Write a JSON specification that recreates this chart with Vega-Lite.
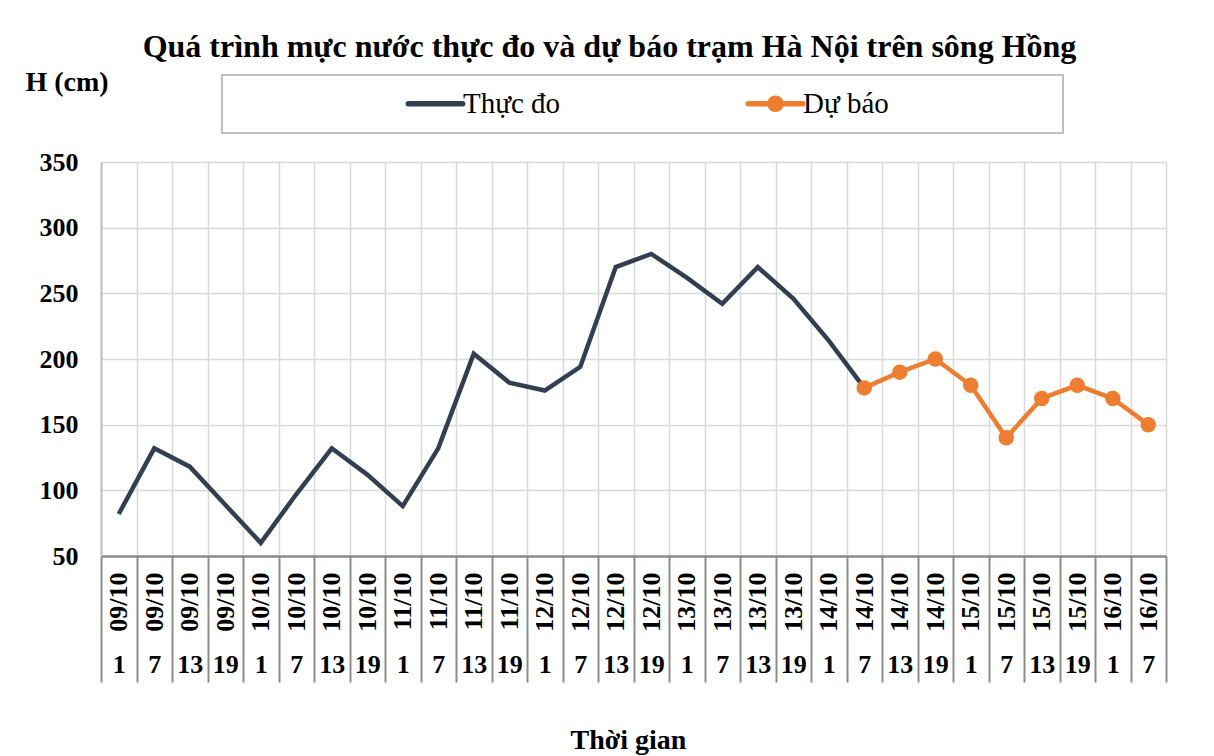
{
  "$schema": "https://vega.github.io/schema/vega-lite/v6.json",
  "width": 1065,
  "height": 394,
  "autosize": {"type": "none"},
  "padding": {"left": 101, "top": 162, "right": 48, "bottom": 200},
  "background": "white",
  "title": {
    "text": "Quá trình mực nước thực đo và dự báo trạm Hà Nội trên sông Hồng",
    "font": "Liberation Serif",
    "fontSize": 32,
    "fontWeight": "bold",
    "color": "black",
    "anchor": "middle",
    "frame": "group",
    "dx": -24
  },
  "config": {
    "view": {"stroke": null},
    "font": "Liberation Serif"
  },
  "datasets": {
    "h": [
      {"t": "09/10 1", "series": "Thực đo", "h": 82},
      {"t": "09/10 7", "series": "Thực đo", "h": 132},
      {"t": "09/10 13", "series": "Thực đo", "h": 118},
      {"t": "09/10 19", "series": "Thực đo", "h": 89},
      {"t": "10/10 1", "series": "Thực đo", "h": 60},
      {"t": "10/10 7", "series": "Thực đo", "h": 97},
      {"t": "10/10 13", "series": "Thực đo", "h": 132},
      {"t": "10/10 19", "series": "Thực đo", "h": 112},
      {"t": "11/10 1", "series": "Thực đo", "h": 88},
      {"t": "11/10 7", "series": "Thực đo", "h": 132},
      {"t": "11/10 13", "series": "Thực đo", "h": 204},
      {"t": "11/10 19", "series": "Thực đo", "h": 182},
      {"t": "12/10 1", "series": "Thực đo", "h": 176},
      {"t": "12/10 7", "series": "Thực đo", "h": 194},
      {"t": "12/10 13", "series": "Thực đo", "h": 270},
      {"t": "12/10 19", "series": "Thực đo", "h": 280},
      {"t": "13/10 1", "series": "Thực đo", "h": 262},
      {"t": "13/10 7", "series": "Thực đo", "h": 242},
      {"t": "13/10 13", "series": "Thực đo", "h": 270},
      {"t": "13/10 19", "series": "Thực đo", "h": 246},
      {"t": "14/10 1", "series": "Thực đo", "h": 214},
      {"t": "14/10 7", "series": "Thực đo", "h": 178},
      {"t": "14/10 7", "series": "Dự báo", "h": 178},
      {"t": "14/10 13", "series": "Dự báo", "h": 190},
      {"t": "14/10 19", "series": "Dự báo", "h": 200},
      {"t": "15/10 1", "series": "Dự báo", "h": 180},
      {"t": "15/10 7", "series": "Dự báo", "h": 140},
      {"t": "15/10 13", "series": "Dự báo", "h": 170},
      {"t": "15/10 19", "series": "Dự báo", "h": 180},
      {"t": "16/10 1", "series": "Dự báo", "h": 170},
      {"t": "16/10 7", "series": "Dự báo", "h": 150}
    ]
  },
  "data": {"name": "h"},
  "layer": [
    {
      "mark": {"type": "line", "strokeWidth": 4.5, "strokeJoin": "miter", "strokeCap": "butt"},
      "encoding": {
        "x": {
          "field": "t",
          "type": "nominal",
          "scale": {
            "domain": ["09/10 1", "09/10 7", "09/10 13", "09/10 19", "10/10 1", "10/10 7", "10/10 13", "10/10 19", "11/10 1", "11/10 7", "11/10 13", "11/10 19", "12/10 1", "12/10 7", "12/10 13", "12/10 19", "13/10 1", "13/10 7", "13/10 13", "13/10 19", "14/10 1", "14/10 7", "14/10 13", "14/10 19", "15/10 1", "15/10 7", "15/10 13", "15/10 19", "16/10 1", "16/10 7"],
            "paddingInner": 0,
            "paddingOuter": 0
          },
          "axis": {
            "orient": "bottom",
            "title": null,
            "labelExpr": "isString(datum.value) ? split(datum.value, ' ')[0] : ''",
            "labelAngle": -90,
            "labelAlign": "right",
            "labelBaseline": "middle",
            "labelPadding": 16,
            "labelFont": "Liberation Serif",
            "labelFontSize": 26,
            "labelFontWeight": "bold",
            "labelColor": "black",
            "labelOverlap": false,
            "labelBound": false,
            "ticks": false,
            "tickBand": "extent",
            "grid": true,
            "gridColor": "#d9d9d9",
            "gridWidth": 1.5,
            "domain": true,
            "domainColor": "#8c8c8c",
            "domainWidth": 2.5
          }
        },
        "y": {
          "field": "h",
          "type": "quantitative",
          "scale": {"domain": [50, 350], "nice": false, "zero": false},
          "axis": {
            "values": [50, 100, 150, 200, 250, 300, 350],
            "title": "H (cm)",
            "titleAngle": 0,
            "titleAlign": "left",
            "titleBaseline": "middle",
            "titleX": -76,
            "titleY": -80,
            "titleFont": "Liberation Serif",
            "titleFontSize": 28,
            "titleFontWeight": "bold",
            "titleColor": "black",
            "labelFont": "Liberation Serif",
            "labelFontSize": 26,
            "labelFontWeight": "bold",
            "labelColor": "black",
            "labelPadding": 23,
            "labelBaseline": "middle",
            "ticks": false,
            "grid": true,
            "gridColor": "#d9d9d9",
            "gridWidth": 1.5,
            "domain": true,
            "domainColor": "#bfbfbf",
            "domainWidth": 2
          }
        },
        "color": {
          "field": "series",
          "type": "nominal",
          "scale": {"domain": ["Thực đo", "Dự báo"], "range": ["#333f50", "#ed7d31"]},
          "legend": {
            "title": "MMMMMMMMMMM",
            "titleOrient": "right",
            "titleFont": "Liberation Serif",
            "titleFontSize": 15,
            "titleFontWeight": "normal",
            "titleOpacity": 0,
            "titlePadding": 13,
            "titleLimit": 400,
            "orient": "none",
            "legendX": 121,
            "legendY": -87,
            "direction": "horizontal",
            "strokeColor": "#c0c0c0",
            "fillColor": "white",
            "padding": 14,
            "symbolSize": 256,
            "symbolOffset": 185,
            "columnPadding": 15,
            "labelOffset": 13,
            "labelFont": "Liberation Serif",
            "labelFontSize": 29,
            "labelColor": "black",
            "labelFontWeight": "normal",
            "encode": {
              "legend": {"update": {"strokeWidth": {"value": 2}}},
              "symbols": {
                "update": {
                  "shape": {"signal": "datum.value === 'Dự báo' ? 'M-3.4,-0.25H3.4A0.25,0.25 0 0 1 3.4,0.25H-3.4A0.25,0.25 0 0 1 -3.4,-0.25Z M-0.95,0A0.95,0.95 0 1 1 0.95,0A0.95,0.95 0 1 1 -0.95,0Z' : 'M-3.4,-0.25H3.4A0.25,0.25 0 0 1 3.4,0.25H-3.4A0.25,0.25 0 0 1 -3.4,-0.25Z'"},
                  "fill": {"signal": "datum.value === 'Dự báo' ? '#ed7d31' : '#333f50'"},
                  "stroke": {"value": null},
                  "opacity": {"value": 1},
                  "fillOpacity": {"value": 1}
                }
              }
            }
          }
        }
      }
    },
    {
      "transform": [{"filter": "datum.series === 'Dự báo'"}],
      "mark": {"type": "circle", "size": 240, "color": "#ed7d31", "opacity": 1},
      "encoding": {
        "x": {
          "field": "t",
          "type": "nominal",
          "scale": {
            "domain": ["09/10 1", "09/10 7", "09/10 13", "09/10 19", "10/10 1", "10/10 7", "10/10 13", "10/10 19", "11/10 1", "11/10 7", "11/10 13", "11/10 19", "12/10 1", "12/10 7", "12/10 13", "12/10 19", "13/10 1", "13/10 7", "13/10 13", "13/10 19", "14/10 1", "14/10 7", "14/10 13", "14/10 19", "15/10 1", "15/10 7", "15/10 13", "15/10 19", "16/10 1", "16/10 7"],
            "paddingInner": 0,
            "paddingOuter": 0
          },
          "axis": {
            "orient": "bottom",
            "offset": 0,
            "title": "Thời gian",
            "titleFont": "Liberation Serif",
            "titleFontSize": 28,
            "titleFontWeight": "bold",
            "titleColor": "black",
            "titlePadding": 43,
            "titleX": 527,
            "labelExpr": "isString(datum.value) ? split(datum.value, ' ')[1] : ''",
            "labelAngle": 0,
            "labelAlign": "center",
            "labelBaseline": "alphabetic",
            "labelPadding": -10,
            "labelFont": "Liberation Serif",
            "labelFontSize": 26,
            "labelFontWeight": "bold",
            "labelColor": "black",
            "labelOverlap": false,
            "labelBound": false,
            "ticks": true,
            "tickBand": "extent",
            "tickSize": 126,
            "tickColor": "#8c8c8c",
            "tickWidth": 2,
            "grid": false,
            "domain": false
          }
        },
        "y": {"field": "h", "type": "quantitative"}
      }
    }
  ],
  "resolve": {"scale": {"x": "independent"}, "axis": {"x": "independent"}}
}
